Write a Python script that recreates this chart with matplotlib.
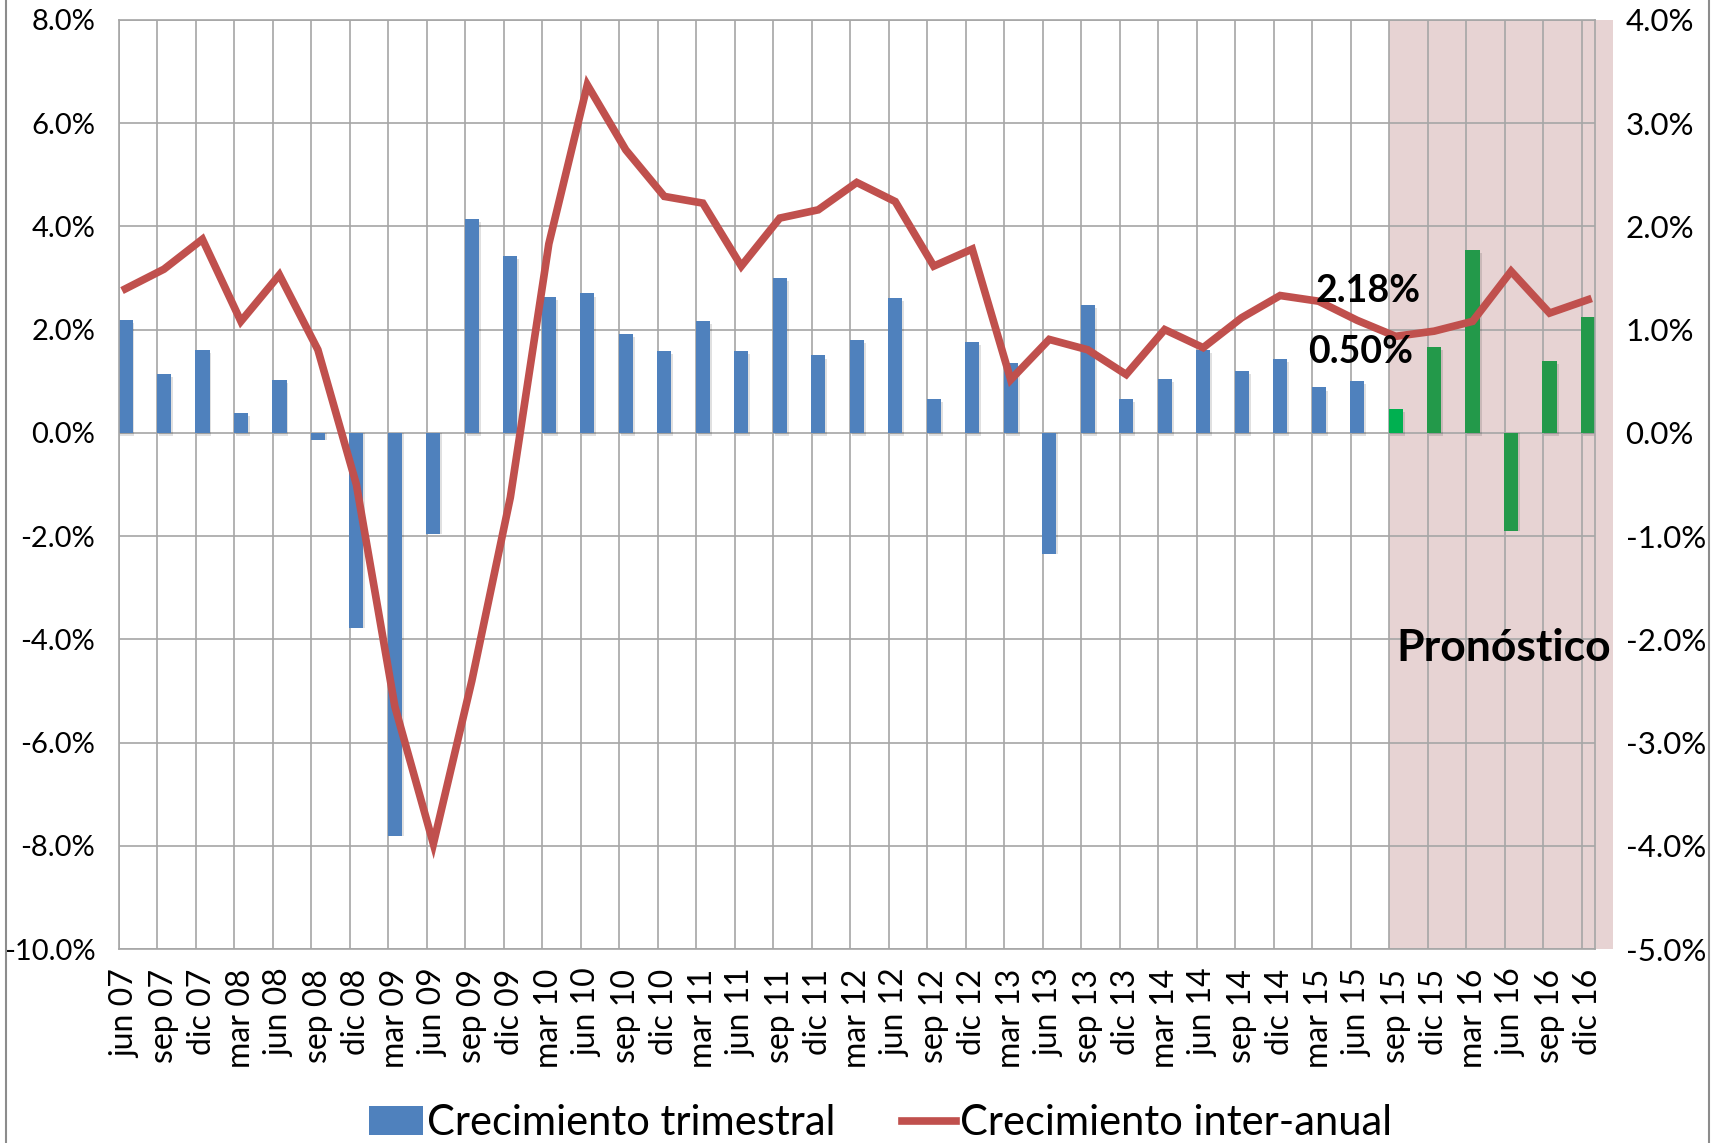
import numpy as np
import matplotlib
matplotlib.use("Agg")
import matplotlib.pyplot as plt
from matplotlib.patches import Rectangle, Patch
from matplotlib.lines import Line2D
import matplotlib.transforms as mtransforms

plt.rcParams['font.family'] = ['Lato', 'DejaVu Sans']

categories = ["jun 07", "sep 07", "dic 07", "mar 08", "jun 08", "sep 08", "dic 08",
              "mar 09", "jun 09", "sep 09", "dic 09", "mar 10", "jun 10", "sep 10",
              "dic 10", "mar 11", "jun 11", "sep 11", "dic 11", "mar 12", "jun 12",
              "sep 12", "dic 12", "mar 13", "jun 13", "sep 13", "dic 13", "mar 14",
              "jun 14", "sep 14", "dic 14", "mar 15", "jun 15", "sep 15", "dic 15",
              "mar 16", "jun 16", "sep 16", "dic 16"]

# Crecimiento trimestral (%), right axis
trimestral = [1.09, 0.57, 0.80, 0.19, 0.51, -0.07, -1.89, -3.90, -0.98, 2.07, 1.71,
              1.32, 1.35, 0.96, 0.79, 1.08, 0.79, 1.50, 0.75, 0.90, 1.31, 0.33, 0.88,
              0.68, -1.17, 1.24, 0.33, 0.52, 0.80, 0.60, 0.72, 0.44, 0.50, 0.23, 0.83,
              1.77, -0.95, 0.70, 1.12]

# Crecimiento inter-anual (%), left axis
interanual = [2.79, 3.17, 3.75, 2.16, 3.06, 1.61, -1.00, -5.30, -7.96, -4.80, -1.25,
              3.66, 6.74, 5.48, 4.58, 4.45, 3.23, 4.16, 4.32, 4.85, 4.48, 3.23, 3.56,
              1.03, 1.81, 1.61, 1.13, 2.00, 1.65, 2.23, 2.66, 2.55, 2.18, 1.87, 1.97,
              2.16, 3.13, 2.32, 2.58]

forecast_start = "sep 15"
left_ticks = [-10, -8, -6, -4, -2, 0, 2, 4, 6, 8]
right_ticks = [-5, -4, -3, -2, -1, 0, 1, 2, 3, 4]

BLUE = "#4F81BD"
GREEN = "#23994A"
GREEN_FIRST = "#00B050"
RED = "#C0504D"
GRID = "#A6A6A6"

n = len(categories)
x = np.arange(n)
fs_idx = categories.index(forecast_start)

W, H = 1726, 1143
fig = plt.figure(figsize=(W / 100, H / 100), dpi=100)
left, right, top, bottom = 108 / 1568, 1449 / 1568, 1 - 18 / 1038, 1 - 862 / 1038
ax = fig.add_axes([left, bottom, right - left, top - bottom])

off = 0.17
ax.set_xlim(-off, n - 1 + 0.18)
ax.set_ylim(-5, 4)
ax.set_axisbelow(True)

# bars (right scale)
colors = []
for i in range(n):
    if i < fs_idx:
        colors.append(BLUE)
    elif i == fs_idx:
        colors.append(GREEN_FIRST)
    else:
        colors.append(GREEN)
# soft shadow
ax.bar(x + 0.05, trimestral, width=0.37, color="#000000", alpha=0.12, zorder=1.5,
       bottom=[-0.03 if v > 0 else 0.0 for v in trimestral])
ax.bar(x, trimestral, width=0.37, color=colors, zorder=2)

# forecast shading
trans = mtransforms.blended_transform_factory(ax.transData, ax.transAxes)
ax.add_patch(Rectangle((fs_idx - off, 0), (n - 1 + 0.64) - (fs_idx - off), 1,
                       transform=trans, facecolor="#E7D3D3", edgecolor="none",
                       zorder=0.1, clip_on=False))

# grids
ax.set_yticks(right_ticks)
ax.set_yticklabels([f"{v:.1f}%" for v in right_ticks])
ax.set_xticks(x)
ax.set_xticklabels(categories, rotation=90, va="top", ha="center")
ax.set_xticks(x - off, minor=True)
ax.grid(axis="y", which="major", color=GRID, lw=1.2)
ax.grid(axis="x", which="minor", color=GRID, lw=1.2)
for s in ax.spines.values():
    s.set_color(GRID)
    s.set_linewidth(1.2)

# line (left scale)
ax2 = ax.twinx()
ax.yaxis.tick_right()
ax.tick_params(axis="both", which="both", length=0)
ax.tick_params(axis="y", labelsize=22.5, pad=22)
ax.tick_params(axis="x", labelsize=23, pad=14)

ax2.set_ylim(-10, 8)
ax2.yaxis.tick_left()
ax2.set_yticks(left_ticks)
ax2.set_yticklabels([f"{v:.1f}%" for v in left_ticks])
ax2.tick_params(axis="y", length=0, labelsize=21, pad=17)
for s in ax2.spines.values():
    s.set_visible(False)
ax2.plot(x, interanual, color=RED, lw=5.5, solid_joinstyle="miter", zorder=3)

# annotations
ax2.text(32.3, 2.74, f"{interanual[categories.index('jun 15')]:.2f}%", ha="center",
         va="center", fontsize=27, fontweight="bold", zorder=5)
ax2.text(32.1, 1.57, f"{trimestral[categories.index('jun 15')]:.2f}%", ha="center",
         va="center", fontsize=27, fontweight="bold", zorder=5)
ax2.text(35.8, -4.17, "Pronóstico", ha="center", va="center", fontsize=32,
         fontweight="bold", zorder=5)

# legend
handles = [Patch(facecolor=BLUE, edgecolor="none"),
           Line2D([], [], color=RED, lw=5.5)]
fig.legend(handles, ["Crecimiento trimestral", "Crecimiento inter-anual"],
           loc="center", bbox_to_anchor=(800 / 1568, 1 - 1020 / 1038), ncol=2,
           frameon=False, fontsize=30, handlelength=1.3, handletextpad=0.1,
           columnspacing=1.6)

# chart border
for xf in (5 / 1568, 1553 / 1568):
    fig.add_artist(Line2D([xf, xf], [0, 1], transform=fig.transFigure,
                          color="#8C8C8C", lw=1.5))

fig.savefig("out.png", dpi=100, facecolor="white")
